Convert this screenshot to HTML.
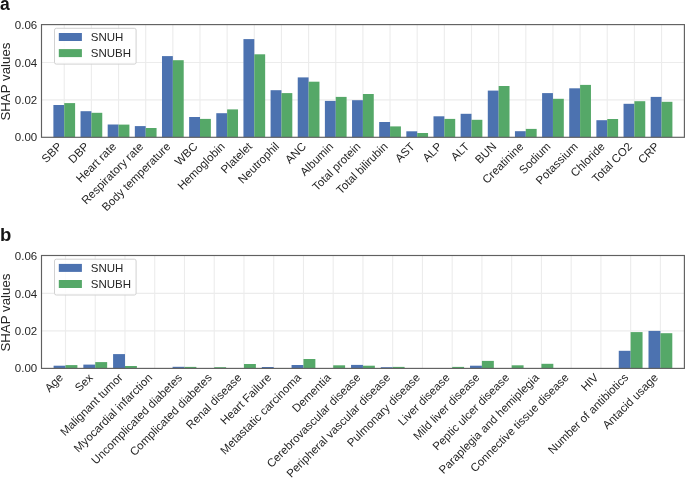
<!DOCTYPE html>
<html><head><meta charset="utf-8"><style>
html,body{margin:0;padding:0;background:#fff;width:685px;height:478px;overflow:hidden}
svg{display:block;font-family:"Liberation Sans",sans-serif;will-change:transform}
</style></head><body>
<svg width="685" height="478" viewBox="0 0 685 478" font-family='"Liberation Sans", sans-serif'>
<rect width="685" height="478" fill="#fff"/>
<line x1="41.5" y1="99.90" x2="684.4" y2="99.90" stroke="#ececec" stroke-width="1.1"/>
<line x1="41.5" y1="62.45" x2="684.4" y2="62.45" stroke="#ececec" stroke-width="1.1"/>
<line x1="64.25" y1="24.6" x2="64.25" y2="137.3" stroke="#ececec" stroke-width="1.1"/>
<line x1="91.40" y1="24.6" x2="91.40" y2="137.3" stroke="#ececec" stroke-width="1.1"/>
<line x1="118.55" y1="24.6" x2="118.55" y2="137.3" stroke="#ececec" stroke-width="1.1"/>
<line x1="145.70" y1="24.6" x2="145.70" y2="137.3" stroke="#ececec" stroke-width="1.1"/>
<line x1="172.85" y1="24.6" x2="172.85" y2="137.3" stroke="#ececec" stroke-width="1.1"/>
<line x1="200.00" y1="24.6" x2="200.00" y2="137.3" stroke="#ececec" stroke-width="1.1"/>
<line x1="227.15" y1="24.6" x2="227.15" y2="137.3" stroke="#ececec" stroke-width="1.1"/>
<line x1="254.30" y1="24.6" x2="254.30" y2="137.3" stroke="#ececec" stroke-width="1.1"/>
<line x1="281.45" y1="24.6" x2="281.45" y2="137.3" stroke="#ececec" stroke-width="1.1"/>
<line x1="308.60" y1="24.6" x2="308.60" y2="137.3" stroke="#ececec" stroke-width="1.1"/>
<line x1="335.75" y1="24.6" x2="335.75" y2="137.3" stroke="#ececec" stroke-width="1.1"/>
<line x1="362.90" y1="24.6" x2="362.90" y2="137.3" stroke="#ececec" stroke-width="1.1"/>
<line x1="390.05" y1="24.6" x2="390.05" y2="137.3" stroke="#ececec" stroke-width="1.1"/>
<line x1="417.20" y1="24.6" x2="417.20" y2="137.3" stroke="#ececec" stroke-width="1.1"/>
<line x1="444.35" y1="24.6" x2="444.35" y2="137.3" stroke="#ececec" stroke-width="1.1"/>
<line x1="471.50" y1="24.6" x2="471.50" y2="137.3" stroke="#ececec" stroke-width="1.1"/>
<line x1="498.65" y1="24.6" x2="498.65" y2="137.3" stroke="#ececec" stroke-width="1.1"/>
<line x1="525.80" y1="24.6" x2="525.80" y2="137.3" stroke="#ececec" stroke-width="1.1"/>
<line x1="552.95" y1="24.6" x2="552.95" y2="137.3" stroke="#ececec" stroke-width="1.1"/>
<line x1="580.10" y1="24.6" x2="580.10" y2="137.3" stroke="#ececec" stroke-width="1.1"/>
<line x1="607.25" y1="24.6" x2="607.25" y2="137.3" stroke="#ececec" stroke-width="1.1"/>
<line x1="634.40" y1="24.6" x2="634.40" y2="137.3" stroke="#ececec" stroke-width="1.1"/>
<line x1="661.55" y1="24.6" x2="661.55" y2="137.3" stroke="#ececec" stroke-width="1.1"/>
<rect x="53.39" y="105.00" width="10.86" height="32.30" fill="#4c72b0"/>
<rect x="64.25" y="103.10" width="10.86" height="34.20" fill="#55a868"/>
<rect x="80.54" y="111.20" width="10.86" height="26.10" fill="#4c72b0"/>
<rect x="91.40" y="112.80" width="10.86" height="24.50" fill="#55a868"/>
<rect x="107.69" y="124.50" width="10.86" height="12.80" fill="#4c72b0"/>
<rect x="118.55" y="124.60" width="10.86" height="12.70" fill="#55a868"/>
<rect x="134.84" y="126.10" width="10.86" height="11.20" fill="#4c72b0"/>
<rect x="145.70" y="128.00" width="10.86" height="9.30" fill="#55a868"/>
<rect x="161.99" y="56.10" width="10.86" height="81.20" fill="#4c72b0"/>
<rect x="172.85" y="60.20" width="10.86" height="77.10" fill="#55a868"/>
<rect x="189.14" y="117.00" width="10.86" height="20.30" fill="#4c72b0"/>
<rect x="200.00" y="118.90" width="10.86" height="18.40" fill="#55a868"/>
<rect x="216.29" y="113.20" width="10.86" height="24.10" fill="#4c72b0"/>
<rect x="227.15" y="109.40" width="10.86" height="27.90" fill="#55a868"/>
<rect x="243.44" y="39.10" width="10.86" height="98.20" fill="#4c72b0"/>
<rect x="254.30" y="54.30" width="10.86" height="83.00" fill="#55a868"/>
<rect x="270.59" y="90.20" width="10.86" height="47.10" fill="#4c72b0"/>
<rect x="281.45" y="93.10" width="10.86" height="44.20" fill="#55a868"/>
<rect x="297.74" y="77.40" width="10.86" height="59.90" fill="#4c72b0"/>
<rect x="308.60" y="81.70" width="10.86" height="55.60" fill="#55a868"/>
<rect x="324.89" y="100.90" width="10.86" height="36.40" fill="#4c72b0"/>
<rect x="335.75" y="96.90" width="10.86" height="40.40" fill="#55a868"/>
<rect x="352.04" y="100.20" width="10.86" height="37.10" fill="#4c72b0"/>
<rect x="362.90" y="94.00" width="10.86" height="43.30" fill="#55a868"/>
<rect x="379.19" y="122.00" width="10.86" height="15.30" fill="#4c72b0"/>
<rect x="390.05" y="126.40" width="10.86" height="10.90" fill="#55a868"/>
<rect x="406.34" y="131.30" width="10.86" height="6.00" fill="#4c72b0"/>
<rect x="417.20" y="133.00" width="10.86" height="4.30" fill="#55a868"/>
<rect x="433.49" y="116.30" width="10.86" height="21.00" fill="#4c72b0"/>
<rect x="444.35" y="118.90" width="10.86" height="18.40" fill="#55a868"/>
<rect x="460.64" y="113.80" width="10.86" height="23.50" fill="#4c72b0"/>
<rect x="471.50" y="119.80" width="10.86" height="17.50" fill="#55a868"/>
<rect x="487.79" y="90.60" width="10.86" height="46.70" fill="#4c72b0"/>
<rect x="498.65" y="86.00" width="10.86" height="51.30" fill="#55a868"/>
<rect x="514.94" y="131.20" width="10.86" height="6.10" fill="#4c72b0"/>
<rect x="525.80" y="128.90" width="10.86" height="8.40" fill="#55a868"/>
<rect x="542.09" y="93.10" width="10.86" height="44.20" fill="#4c72b0"/>
<rect x="552.95" y="98.80" width="10.86" height="38.50" fill="#55a868"/>
<rect x="569.24" y="88.30" width="10.86" height="49.00" fill="#4c72b0"/>
<rect x="580.10" y="84.90" width="10.86" height="52.40" fill="#55a868"/>
<rect x="596.39" y="120.20" width="10.86" height="17.10" fill="#4c72b0"/>
<rect x="607.25" y="119.00" width="10.86" height="18.30" fill="#55a868"/>
<rect x="623.54" y="103.80" width="10.86" height="33.50" fill="#4c72b0"/>
<rect x="634.40" y="101.20" width="10.86" height="36.10" fill="#55a868"/>
<rect x="650.69" y="96.90" width="10.86" height="40.40" fill="#4c72b0"/>
<rect x="661.55" y="101.80" width="10.86" height="35.50" fill="#55a868"/>
<rect x="41.5" y="24.6" width="642.90" height="112.70" fill="none" stroke="#606060" stroke-width="1.15"/>
<text x="37.2" y="141.45" text-anchor="end" font-size="11.5" fill="#262626">0.00</text>
<text x="37.2" y="104.00" text-anchor="end" font-size="11.5" fill="#262626">0.02</text>
<text x="37.2" y="66.55" text-anchor="end" font-size="11.5" fill="#262626">0.04</text>
<text x="37.2" y="29.10" text-anchor="end" font-size="11.5" fill="#262626">0.06</text>
<text x="62.65" y="147.20" text-anchor="end" font-size="11.5" fill="#262626" transform="rotate(-45 62.65 147.20)">SBP</text>
<text x="89.80" y="147.20" text-anchor="end" font-size="11.5" fill="#262626" transform="rotate(-45 89.80 147.20)">DBP</text>
<text x="116.95" y="147.20" text-anchor="end" font-size="11.5" fill="#262626" transform="rotate(-45 116.95 147.20)">Heart rate</text>
<text x="144.10" y="147.20" text-anchor="end" font-size="11.5" fill="#262626" transform="rotate(-45 144.10 147.20)">Respiratory rate</text>
<text x="171.25" y="147.20" text-anchor="end" font-size="11.5" fill="#262626" transform="rotate(-45 171.25 147.20)">Body temperature</text>
<text x="198.40" y="147.20" text-anchor="end" font-size="11.5" fill="#262626" transform="rotate(-45 198.40 147.20)">WBC</text>
<text x="225.55" y="147.20" text-anchor="end" font-size="11.5" fill="#262626" transform="rotate(-45 225.55 147.20)">Hemoglobin</text>
<text x="252.70" y="147.20" text-anchor="end" font-size="11.5" fill="#262626" transform="rotate(-45 252.70 147.20)">Platelet</text>
<text x="279.85" y="147.20" text-anchor="end" font-size="11.5" fill="#262626" transform="rotate(-45 279.85 147.20)">Neutrophil</text>
<text x="307.00" y="147.20" text-anchor="end" font-size="11.5" fill="#262626" transform="rotate(-45 307.00 147.20)">ANC</text>
<text x="334.15" y="147.20" text-anchor="end" font-size="11.5" fill="#262626" transform="rotate(-45 334.15 147.20)">Albumin</text>
<text x="361.30" y="147.20" text-anchor="end" font-size="11.5" fill="#262626" transform="rotate(-45 361.30 147.20)">Total protein</text>
<text x="388.45" y="147.20" text-anchor="end" font-size="11.5" fill="#262626" transform="rotate(-45 388.45 147.20)">Total bilirubin</text>
<text x="415.60" y="147.20" text-anchor="end" font-size="11.5" fill="#262626" transform="rotate(-45 415.60 147.20)">AST</text>
<text x="442.75" y="147.20" text-anchor="end" font-size="11.5" fill="#262626" transform="rotate(-45 442.75 147.20)">ALP</text>
<text x="469.90" y="147.20" text-anchor="end" font-size="11.5" fill="#262626" transform="rotate(-45 469.90 147.20)">ALT</text>
<text x="497.05" y="147.20" text-anchor="end" font-size="11.5" fill="#262626" transform="rotate(-45 497.05 147.20)">BUN</text>
<text x="524.20" y="147.20" text-anchor="end" font-size="11.5" fill="#262626" transform="rotate(-45 524.20 147.20)">Creatinine</text>
<text x="551.35" y="147.20" text-anchor="end" font-size="11.5" fill="#262626" transform="rotate(-45 551.35 147.20)">Sodium</text>
<text x="578.50" y="147.20" text-anchor="end" font-size="11.5" fill="#262626" transform="rotate(-45 578.50 147.20)">Potassium</text>
<text x="605.65" y="147.20" text-anchor="end" font-size="11.5" fill="#262626" transform="rotate(-45 605.65 147.20)">Chloride</text>
<text x="632.80" y="147.20" text-anchor="end" font-size="11.5" fill="#262626" transform="rotate(-45 632.80 147.20)">Total CO2</text>
<text x="659.95" y="147.20" text-anchor="end" font-size="11.5" fill="#262626" transform="rotate(-45 659.95 147.20)">CRP</text>
<text x="9.8" y="81.55" text-anchor="middle" font-size="13.3" fill="#262626" transform="rotate(-90 9.8 81.55)">SHAP values</text>
<rect x="54.5" y="28.30" width="81.6" height="35.8" rx="1.8" fill="#ffffff" fill-opacity="0.85" stroke="#cccccc" stroke-width="0.9"/>
<rect x="58.8" y="33.00" width="23.1" height="8.0" fill="#4c72b0"/>
<rect x="58.8" y="49.10" width="23.1" height="8.0" fill="#55a868"/>
<text x="90.8" y="41.10" font-size="11.5" fill="#262626">SNUH</text>
<text x="90.8" y="57.20" font-size="11.5" fill="#262626">SNUBH</text>
<text x="0" y="9.7" font-size="17.5" font-weight="bold" fill="#151515">a</text>
<line x1="41.5" y1="330.85" x2="684.4" y2="330.85" stroke="#ececec" stroke-width="1.1"/>
<line x1="41.5" y1="293.40" x2="684.4" y2="293.40" stroke="#ececec" stroke-width="1.1"/>
<line x1="65.50" y1="255.5" x2="65.50" y2="368.4" stroke="#ececec" stroke-width="1.1"/>
<line x1="95.25" y1="255.5" x2="95.25" y2="368.4" stroke="#ececec" stroke-width="1.1"/>
<line x1="124.99" y1="255.5" x2="124.99" y2="368.4" stroke="#ececec" stroke-width="1.1"/>
<line x1="154.74" y1="255.5" x2="154.74" y2="368.4" stroke="#ececec" stroke-width="1.1"/>
<line x1="184.48" y1="255.5" x2="184.48" y2="368.4" stroke="#ececec" stroke-width="1.1"/>
<line x1="214.22" y1="255.5" x2="214.22" y2="368.4" stroke="#ececec" stroke-width="1.1"/>
<line x1="243.97" y1="255.5" x2="243.97" y2="368.4" stroke="#ececec" stroke-width="1.1"/>
<line x1="273.72" y1="255.5" x2="273.72" y2="368.4" stroke="#ececec" stroke-width="1.1"/>
<line x1="303.46" y1="255.5" x2="303.46" y2="368.4" stroke="#ececec" stroke-width="1.1"/>
<line x1="333.20" y1="255.5" x2="333.20" y2="368.4" stroke="#ececec" stroke-width="1.1"/>
<line x1="362.95" y1="255.5" x2="362.95" y2="368.4" stroke="#ececec" stroke-width="1.1"/>
<line x1="392.69" y1="255.5" x2="392.69" y2="368.4" stroke="#ececec" stroke-width="1.1"/>
<line x1="422.44" y1="255.5" x2="422.44" y2="368.4" stroke="#ececec" stroke-width="1.1"/>
<line x1="452.19" y1="255.5" x2="452.19" y2="368.4" stroke="#ececec" stroke-width="1.1"/>
<line x1="481.93" y1="255.5" x2="481.93" y2="368.4" stroke="#ececec" stroke-width="1.1"/>
<line x1="511.68" y1="255.5" x2="511.68" y2="368.4" stroke="#ececec" stroke-width="1.1"/>
<line x1="541.42" y1="255.5" x2="541.42" y2="368.4" stroke="#ececec" stroke-width="1.1"/>
<line x1="571.16" y1="255.5" x2="571.16" y2="368.4" stroke="#ececec" stroke-width="1.1"/>
<line x1="600.91" y1="255.5" x2="600.91" y2="368.4" stroke="#ececec" stroke-width="1.1"/>
<line x1="630.65" y1="255.5" x2="630.65" y2="368.4" stroke="#ececec" stroke-width="1.1"/>
<line x1="660.40" y1="255.5" x2="660.40" y2="368.4" stroke="#ececec" stroke-width="1.1"/>
<rect x="53.60" y="365.70" width="11.90" height="2.70" fill="#4c72b0"/>
<rect x="65.50" y="365.10" width="11.90" height="3.30" fill="#55a868"/>
<rect x="83.35" y="364.60" width="11.90" height="3.80" fill="#4c72b0"/>
<rect x="95.25" y="362.10" width="11.90" height="6.30" fill="#55a868"/>
<rect x="113.09" y="354.10" width="11.90" height="14.30" fill="#4c72b0"/>
<rect x="124.99" y="366.00" width="11.90" height="2.40" fill="#55a868"/>
<rect x="142.84" y="368.10" width="11.90" height="0.30" fill="#4c72b0"/>
<rect x="172.58" y="366.80" width="11.90" height="1.60" fill="#4c72b0"/>
<rect x="184.48" y="366.90" width="11.90" height="1.50" fill="#55a868"/>
<rect x="202.33" y="368.10" width="11.90" height="0.30" fill="#4c72b0"/>
<rect x="214.22" y="367.20" width="11.90" height="1.20" fill="#55a868"/>
<rect x="243.97" y="364.00" width="11.90" height="4.40" fill="#55a868"/>
<rect x="261.82" y="367.00" width="11.90" height="1.40" fill="#4c72b0"/>
<rect x="273.72" y="368.10" width="11.90" height="0.30" fill="#55a868"/>
<rect x="291.56" y="365.00" width="11.90" height="3.40" fill="#4c72b0"/>
<rect x="303.46" y="359.00" width="11.90" height="9.40" fill="#55a868"/>
<rect x="333.20" y="365.30" width="11.90" height="3.10" fill="#55a868"/>
<rect x="351.05" y="364.90" width="11.90" height="3.50" fill="#4c72b0"/>
<rect x="362.95" y="365.70" width="11.90" height="2.70" fill="#55a868"/>
<rect x="380.80" y="367.20" width="11.90" height="1.20" fill="#4c72b0"/>
<rect x="392.69" y="366.90" width="11.90" height="1.50" fill="#55a868"/>
<rect x="410.54" y="368.10" width="11.90" height="0.30" fill="#4c72b0"/>
<rect x="440.29" y="368.10" width="11.90" height="0.30" fill="#4c72b0"/>
<rect x="452.19" y="366.90" width="11.90" height="1.50" fill="#55a868"/>
<rect x="470.03" y="365.70" width="11.90" height="2.70" fill="#4c72b0"/>
<rect x="481.93" y="360.90" width="11.90" height="7.50" fill="#55a868"/>
<rect x="511.68" y="365.30" width="11.90" height="3.10" fill="#55a868"/>
<rect x="541.42" y="363.80" width="11.90" height="4.60" fill="#55a868"/>
<rect x="559.27" y="368.10" width="11.90" height="0.30" fill="#4c72b0"/>
<rect x="618.76" y="350.80" width="11.90" height="17.60" fill="#4c72b0"/>
<rect x="630.65" y="332.10" width="11.90" height="36.30" fill="#55a868"/>
<rect x="648.50" y="330.90" width="11.90" height="37.50" fill="#4c72b0"/>
<rect x="660.40" y="333.20" width="11.90" height="35.20" fill="#55a868"/>
<rect x="41.5" y="255.5" width="642.90" height="112.90" fill="none" stroke="#606060" stroke-width="1.15"/>
<text x="37.2" y="372.40" text-anchor="end" font-size="11.5" fill="#262626">0.00</text>
<text x="37.2" y="334.95" text-anchor="end" font-size="11.5" fill="#262626">0.02</text>
<text x="37.2" y="297.50" text-anchor="end" font-size="11.5" fill="#262626">0.04</text>
<text x="37.2" y="260.05" text-anchor="end" font-size="11.5" fill="#262626">0.06</text>
<text x="63.90" y="378.30" text-anchor="end" font-size="11.5" fill="#262626" transform="rotate(-45 63.90 378.30)">Age</text>
<text x="93.65" y="378.30" text-anchor="end" font-size="11.5" fill="#262626" transform="rotate(-45 93.65 378.30)">Sex</text>
<text x="123.39" y="378.30" text-anchor="end" font-size="11.5" fill="#262626" transform="rotate(-45 123.39 378.30)">Malignant tumor</text>
<text x="153.14" y="378.30" text-anchor="end" font-size="11.5" fill="#262626" transform="rotate(-45 153.14 378.30)">Myocardial infarction</text>
<text x="182.88" y="378.30" text-anchor="end" font-size="11.5" fill="#262626" transform="rotate(-45 182.88 378.30)">Uncomplicated diabetes</text>
<text x="212.62" y="378.30" text-anchor="end" font-size="11.5" fill="#262626" transform="rotate(-45 212.62 378.30)">Complicated diabetes</text>
<text x="242.37" y="378.30" text-anchor="end" font-size="11.5" fill="#262626" transform="rotate(-45 242.37 378.30)">Renal disease</text>
<text x="272.12" y="378.30" text-anchor="end" font-size="11.5" fill="#262626" transform="rotate(-45 272.12 378.30)">Heart Failure</text>
<text x="301.86" y="378.30" text-anchor="end" font-size="11.5" fill="#262626" transform="rotate(-45 301.86 378.30)">Metastatic carcinoma</text>
<text x="331.60" y="378.30" text-anchor="end" font-size="11.5" fill="#262626" transform="rotate(-45 331.60 378.30)">Dementia</text>
<text x="361.35" y="378.30" text-anchor="end" font-size="11.5" fill="#262626" transform="rotate(-45 361.35 378.30)">Cerebrovascular disease</text>
<text x="391.09" y="378.30" text-anchor="end" font-size="11.5" fill="#262626" transform="rotate(-45 391.09 378.30)">Peripheral vascular disease</text>
<text x="420.84" y="378.30" text-anchor="end" font-size="11.5" fill="#262626" transform="rotate(-45 420.84 378.30)">Pulmonary disease</text>
<text x="450.58" y="378.30" text-anchor="end" font-size="11.5" fill="#262626" transform="rotate(-45 450.58 378.30)">Liver disease</text>
<text x="480.33" y="378.30" text-anchor="end" font-size="11.5" fill="#262626" transform="rotate(-45 480.33 378.30)">Mild liver disease</text>
<text x="510.07" y="378.30" text-anchor="end" font-size="11.5" fill="#262626" transform="rotate(-45 510.07 378.30)">Peptic ulcer disease</text>
<text x="539.82" y="378.30" text-anchor="end" font-size="11.5" fill="#262626" transform="rotate(-45 539.82 378.30)">Paraplegia and hemiplegia</text>
<text x="569.56" y="378.30" text-anchor="end" font-size="11.5" fill="#262626" transform="rotate(-45 569.56 378.30)">Connective tissue disease</text>
<text x="599.31" y="378.30" text-anchor="end" font-size="11.5" fill="#262626" transform="rotate(-45 599.31 378.30)">HIV</text>
<text x="629.05" y="378.30" text-anchor="end" font-size="11.5" fill="#262626" transform="rotate(-45 629.05 378.30)">Number of antibiotics</text>
<text x="658.80" y="378.30" text-anchor="end" font-size="11.5" fill="#262626" transform="rotate(-45 658.80 378.30)">Antacid usage</text>
<text x="9.8" y="312.55" text-anchor="middle" font-size="13.3" fill="#262626" transform="rotate(-90 9.8 312.55)">SHAP values</text>
<rect x="54.5" y="259.20" width="81.6" height="35.8" rx="1.8" fill="#ffffff" fill-opacity="0.85" stroke="#cccccc" stroke-width="0.9"/>
<rect x="58.8" y="263.90" width="23.1" height="8.0" fill="#4c72b0"/>
<rect x="58.8" y="280.00" width="23.1" height="8.0" fill="#55a868"/>
<text x="90.8" y="272.00" font-size="11.5" fill="#262626">SNUH</text>
<text x="90.8" y="288.10" font-size="11.5" fill="#262626">SNUBH</text>
<text x="0" y="240.7" font-size="18.5" font-weight="bold" fill="#151515">b</text>
</svg>
</body></html>
